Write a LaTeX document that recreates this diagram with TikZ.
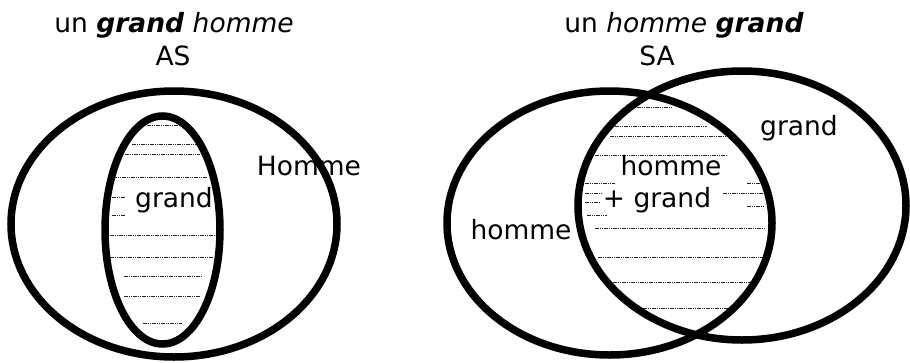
\documentclass[tikz,border=0pt]{standalone}
\usepackage{fontspec}
\setmainfont{DejaVu Sans}
\begin{document}
\begin{tikzpicture}[x=1pt,y=-1pt,
  ring/.style={line width=7.5pt},
  hatch/.style={line width=0.7pt, black!85, dash pattern=on 4pt off 1pt on 1pt off 1pt on 1pt off 1pt},
  lbl/.style={font=\fontsize{26.5}{31}\selectfont, inner sep=0pt, anchor=base}]
\useasboundingbox (0,0) rectangle (910,362);
% hatching left
\foreach \y/\a/\b in {125/147/182,144/132/197,154/125/200,177/113/208,197/112/125,215/112/125,235/110/215,257/110/213,276/124/202,296/124/200,323/143/182}
  \draw[hatch] (\a,\y) -- (\b,\y);
% hatching right
\foreach \y/\a/\b in {107/637/672,126/615/707,136/610/728,155/595/727,183/585/615,183/747/762,193/585/603,193/723/763,202/585/600,206/747/765,215/587/607,228/595/765,257/598/763,282/613/758,308/643/730}
  \draw[hatch] (\a,\y) -- (\b,\y);
% texts
\node[lbl] (t1) at (174,32) {un \textbf{\textit{grand}} \textit{homme}};
\node[lbl] (as) at (173,65) {AS};
\node[lbl] (hom) at (309,175) {Homme};
\node[lbl] (gr1) at (174,207) {grand};
\node[lbl] (t2) at (684,32) {un \textit{homme} \textbf{\textit{grand}}};
\node[lbl] (sa) at (657,65) {SA};
\node[lbl] (gr2) at (799,135) {grand};
\node[lbl] (hm2) at (671,175) {homme};
\node[lbl] (pg) at (657,207) {+ grand};
\node[lbl] (hm3) at (521,239) {homme};
% ellipses
\draw[ring] (174,224) ellipse [x radius=163, y radius=133];
\draw[ring] (162.5,230) ellipse [x radius=57.5, y radius=114];
\draw[ring] (609.5,223) ellipse [x radius=162.5, y radius=132];
\draw[ring] (742,205.5) ellipse [x radius=164, y radius=134.5];
\end{tikzpicture}
\end{document}
